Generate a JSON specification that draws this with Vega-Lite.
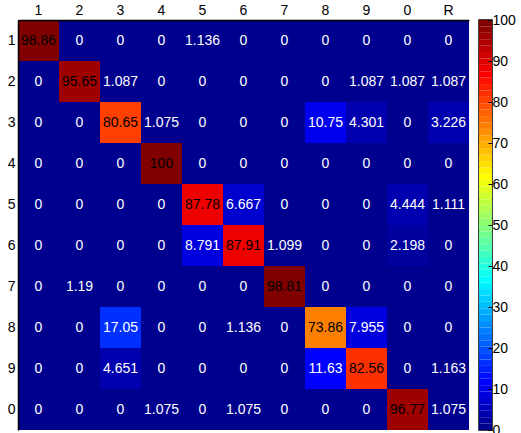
{
  "$schema": "https://vega.github.io/schema/vega-lite/v6.json",
  "padding": {"left": 7, "top": 3, "right": 0, "bottom": 0},
  "background": "white",
  "spacing": 10,
  "bounds": "flush",
  "config": {
    "font": "Liberation Sans",
    "view": {"stroke": null},
    "axis": {"labelFont": "Liberation Sans", "labelFontSize": 14, "labelColor": "#000", "grid": false}
  },
  "datasets": {
    "cm": [
      {"actual": "1", "pred": "1", "v": 98.86}, {"actual": "1", "pred": "2", "v": 0}, {"actual": "1", "pred": "3", "v": 0}, {"actual": "1", "pred": "4", "v": 0}, {"actual": "1", "pred": "5", "v": 1.136}, {"actual": "1", "pred": "6", "v": 0}, {"actual": "1", "pred": "7", "v": 0}, {"actual": "1", "pred": "8", "v": 0}, {"actual": "1", "pred": "9", "v": 0}, {"actual": "1", "pred": "0", "v": 0}, {"actual": "1", "pred": "R", "v": 0},
      {"actual": "2", "pred": "1", "v": 0}, {"actual": "2", "pred": "2", "v": 95.65}, {"actual": "2", "pred": "3", "v": 1.087}, {"actual": "2", "pred": "4", "v": 0}, {"actual": "2", "pred": "5", "v": 0}, {"actual": "2", "pred": "6", "v": 0}, {"actual": "2", "pred": "7", "v": 0}, {"actual": "2", "pred": "8", "v": 0}, {"actual": "2", "pred": "9", "v": 1.087}, {"actual": "2", "pred": "0", "v": 1.087}, {"actual": "2", "pred": "R", "v": 1.087},
      {"actual": "3", "pred": "1", "v": 0}, {"actual": "3", "pred": "2", "v": 0}, {"actual": "3", "pred": "3", "v": 80.65}, {"actual": "3", "pred": "4", "v": 1.075}, {"actual": "3", "pred": "5", "v": 0}, {"actual": "3", "pred": "6", "v": 0}, {"actual": "3", "pred": "7", "v": 0}, {"actual": "3", "pred": "8", "v": 10.75}, {"actual": "3", "pred": "9", "v": 4.301}, {"actual": "3", "pred": "0", "v": 0}, {"actual": "3", "pred": "R", "v": 3.226},
      {"actual": "4", "pred": "1", "v": 0}, {"actual": "4", "pred": "2", "v": 0}, {"actual": "4", "pred": "3", "v": 0}, {"actual": "4", "pred": "4", "v": 100}, {"actual": "4", "pred": "5", "v": 0}, {"actual": "4", "pred": "6", "v": 0}, {"actual": "4", "pred": "7", "v": 0}, {"actual": "4", "pred": "8", "v": 0}, {"actual": "4", "pred": "9", "v": 0}, {"actual": "4", "pred": "0", "v": 0}, {"actual": "4", "pred": "R", "v": 0},
      {"actual": "5", "pred": "1", "v": 0}, {"actual": "5", "pred": "2", "v": 0}, {"actual": "5", "pred": "3", "v": 0}, {"actual": "5", "pred": "4", "v": 0}, {"actual": "5", "pred": "5", "v": 87.78}, {"actual": "5", "pred": "6", "v": 6.667}, {"actual": "5", "pred": "7", "v": 0}, {"actual": "5", "pred": "8", "v": 0}, {"actual": "5", "pred": "9", "v": 0}, {"actual": "5", "pred": "0", "v": 4.444}, {"actual": "5", "pred": "R", "v": 1.111},
      {"actual": "6", "pred": "1", "v": 0}, {"actual": "6", "pred": "2", "v": 0}, {"actual": "6", "pred": "3", "v": 0}, {"actual": "6", "pred": "4", "v": 0}, {"actual": "6", "pred": "5", "v": 8.791}, {"actual": "6", "pred": "6", "v": 87.91}, {"actual": "6", "pred": "7", "v": 1.099}, {"actual": "6", "pred": "8", "v": 0}, {"actual": "6", "pred": "9", "v": 0}, {"actual": "6", "pred": "0", "v": 2.198}, {"actual": "6", "pred": "R", "v": 0},
      {"actual": "7", "pred": "1", "v": 0}, {"actual": "7", "pred": "2", "v": 1.19}, {"actual": "7", "pred": "3", "v": 0}, {"actual": "7", "pred": "4", "v": 0}, {"actual": "7", "pred": "5", "v": 0}, {"actual": "7", "pred": "6", "v": 0}, {"actual": "7", "pred": "7", "v": 98.81}, {"actual": "7", "pred": "8", "v": 0}, {"actual": "7", "pred": "9", "v": 0}, {"actual": "7", "pred": "0", "v": 0}, {"actual": "7", "pred": "R", "v": 0},
      {"actual": "8", "pred": "1", "v": 0}, {"actual": "8", "pred": "2", "v": 0}, {"actual": "8", "pred": "3", "v": 17.05}, {"actual": "8", "pred": "4", "v": 0}, {"actual": "8", "pred": "5", "v": 0}, {"actual": "8", "pred": "6", "v": 1.136}, {"actual": "8", "pred": "7", "v": 0}, {"actual": "8", "pred": "8", "v": 73.86}, {"actual": "8", "pred": "9", "v": 7.955}, {"actual": "8", "pred": "0", "v": 0}, {"actual": "8", "pred": "R", "v": 0},
      {"actual": "9", "pred": "1", "v": 0}, {"actual": "9", "pred": "2", "v": 0}, {"actual": "9", "pred": "3", "v": 4.651}, {"actual": "9", "pred": "4", "v": 0}, {"actual": "9", "pred": "5", "v": 0}, {"actual": "9", "pred": "6", "v": 0}, {"actual": "9", "pred": "7", "v": 0}, {"actual": "9", "pred": "8", "v": 11.63}, {"actual": "9", "pred": "9", "v": 82.56}, {"actual": "9", "pred": "0", "v": 0}, {"actual": "9", "pred": "R", "v": 1.163},
      {"actual": "0", "pred": "1", "v": 0}, {"actual": "0", "pred": "2", "v": 0}, {"actual": "0", "pred": "3", "v": 0}, {"actual": "0", "pred": "4", "v": 1.075}, {"actual": "0", "pred": "5", "v": 0}, {"actual": "0", "pred": "6", "v": 1.075}, {"actual": "0", "pred": "7", "v": 0}, {"actual": "0", "pred": "8", "v": 0}, {"actual": "0", "pred": "9", "v": 0}, {"actual": "0", "pred": "0", "v": 96.77}, {"actual": "0", "pred": "R", "v": 1.075}
    ],
    "cb": [
      {"lo": 0, "hi": 1.5625}, {"lo": 1.5625, "hi": 3.125}, {"lo": 3.125, "hi": 4.6875}, {"lo": 4.6875, "hi": 6.25}, {"lo": 6.25, "hi": 7.8125}, {"lo": 7.8125, "hi": 9.375}, {"lo": 9.375, "hi": 10.9375}, {"lo": 10.9375, "hi": 12.5},
      {"lo": 12.5, "hi": 14.0625}, {"lo": 14.0625, "hi": 15.625}, {"lo": 15.625, "hi": 17.1875}, {"lo": 17.1875, "hi": 18.75}, {"lo": 18.75, "hi": 20.3125}, {"lo": 20.3125, "hi": 21.875}, {"lo": 21.875, "hi": 23.4375}, {"lo": 23.4375, "hi": 25},
      {"lo": 25, "hi": 26.5625}, {"lo": 26.5625, "hi": 28.125}, {"lo": 28.125, "hi": 29.6875}, {"lo": 29.6875, "hi": 31.25}, {"lo": 31.25, "hi": 32.8125}, {"lo": 32.8125, "hi": 34.375}, {"lo": 34.375, "hi": 35.9375}, {"lo": 35.9375, "hi": 37.5},
      {"lo": 37.5, "hi": 39.0625}, {"lo": 39.0625, "hi": 40.625}, {"lo": 40.625, "hi": 42.1875}, {"lo": 42.1875, "hi": 43.75}, {"lo": 43.75, "hi": 45.3125}, {"lo": 45.3125, "hi": 46.875}, {"lo": 46.875, "hi": 48.4375}, {"lo": 48.4375, "hi": 50},
      {"lo": 50, "hi": 51.5625}, {"lo": 51.5625, "hi": 53.125}, {"lo": 53.125, "hi": 54.6875}, {"lo": 54.6875, "hi": 56.25}, {"lo": 56.25, "hi": 57.8125}, {"lo": 57.8125, "hi": 59.375}, {"lo": 59.375, "hi": 60.9375}, {"lo": 60.9375, "hi": 62.5},
      {"lo": 62.5, "hi": 64.0625}, {"lo": 64.0625, "hi": 65.625}, {"lo": 65.625, "hi": 67.1875}, {"lo": 67.1875, "hi": 68.75}, {"lo": 68.75, "hi": 70.3125}, {"lo": 70.3125, "hi": 71.875}, {"lo": 71.875, "hi": 73.4375}, {"lo": 73.4375, "hi": 75},
      {"lo": 75, "hi": 76.5625}, {"lo": 76.5625, "hi": 78.125}, {"lo": 78.125, "hi": 79.6875}, {"lo": 79.6875, "hi": 81.25}, {"lo": 81.25, "hi": 82.8125}, {"lo": 82.8125, "hi": 84.375}, {"lo": 84.375, "hi": 85.9375}, {"lo": 85.9375, "hi": 87.5},
      {"lo": 87.5, "hi": 89.0625}, {"lo": 89.0625, "hi": 90.625}, {"lo": 90.625, "hi": 92.1875}, {"lo": 92.1875, "hi": 93.75}, {"lo": 93.75, "hi": 95.3125}, {"lo": 95.3125, "hi": 96.875}, {"lo": 96.875, "hi": 98.4375}, {"lo": 98.4375, "hi": 100}
    ]
  },
  "hconcat": [
    {
      "width": 451,
      "height": 410,
      "data": {"name": "cm"},
      "encoding": {
        "x": {"field": "pred", "type": "ordinal", "sort": ["1", "2", "3", "4", "5", "6", "7", "8", "9", "0", "R"], "scale": {"paddingInner": 0, "paddingOuter": 0}, "axis": {"orient": "top", "title": null, "ticks": false, "labelAngle": 0, "labelPadding": 3, "domain": true, "domainColor": "#000", "domainWidth": 1.5, "zindex": 1}},
        "y": {"field": "actual", "type": "ordinal", "sort": ["1", "2", "3", "4", "5", "6", "7", "8", "9", "0"], "scale": {"paddingInner": 0, "paddingOuter": 0}, "axis": {"title": null, "ticks": false, "labelPadding": 3, "domain": true, "domainColor": "#000", "domainWidth": 1.5, "zindex": 1}}
      },
      "layer": [
        {
          "mark": {"type": "rect"},
          "encoding": {
            "color": {"field": "v", "type": "quantitative", "legend": null, "scale": {"type": "quantize", "domain": [0, 100], "range": ["#00008F","#00009F","#0000AF","#0000BF","#0000CF","#0000DF","#0000EF","#0000FF","#0010FF","#0020FF","#0030FF","#0040FF","#0050FF","#0060FF","#0070FF","#0080FF","#008FFF","#009FFF","#00AFFF","#00BFFF","#00CFFF","#00DFFF","#00EFFF","#00FFFF","#10FFEF","#20FFDF","#30FFCF","#40FFBF","#50FFAF","#60FF9F","#70FF8F","#80FF80","#8FFF70","#9FFF60","#AFFF50","#BFFF40","#CFFF30","#DFFF20","#EFFF10","#FFFF00","#FFEF00","#FFDF00","#FFCF00","#FFBF00","#FFAF00","#FF9F00","#FF8F00","#FF8000","#FF7000","#FF6000","#FF5000","#FF4000","#FF3000","#FF2000","#FF1000","#FF0000","#EF0000","#DF0000","#CF0000","#BF0000","#AF0000","#9F0000","#8F0000","#800000"]}}
          }
        },
        {
          "mark": {"type": "text", "fontSize": 14, "font": "Liberation Sans"},
          "encoding": {
            "text": {"field": "v", "type": "quantitative", "format": ".4~g"},
            "color": {"condition": {"test": "datum.v > 50", "value": "#000000"}, "value": "#FFFFFF"}
          }
        }
      ]
    },
    {
      "width": 13,
      "height": 410,
      "data": {"name": "cb"},
      "view": {"stroke": "#000", "strokeWidth": 1.5},
      "mark": {"type": "rect"},
      "encoding": {
        "y": {"field": "lo", "type": "quantitative", "scale": {"domain": [0, 100], "nice": false, "zero": false}, "axis": {"orient": "right", "title": null, "values": [0, 10, 20, 30, 40, 50, 60, 70, 80, 90, 100], "tickSize": -4, "tickColor": "#000", "domain": false, "labelPadding": 4, "zindex": 1}},
        "y2": {"field": "hi"},
        "color": {"field": "lo", "type": "quantitative", "legend": null, "scale": {"type": "quantize", "domain": [0, 100], "range": ["#00008F","#00009F","#0000AF","#0000BF","#0000CF","#0000DF","#0000EF","#0000FF","#0010FF","#0020FF","#0030FF","#0040FF","#0050FF","#0060FF","#0070FF","#0080FF","#008FFF","#009FFF","#00AFFF","#00BFFF","#00CFFF","#00DFFF","#00EFFF","#00FFFF","#10FFEF","#20FFDF","#30FFCF","#40FFBF","#50FFAF","#60FF9F","#70FF8F","#80FF80","#8FFF70","#9FFF60","#AFFF50","#BFFF40","#CFFF30","#DFFF20","#EFFF10","#FFFF00","#FFEF00","#FFDF00","#FFCF00","#FFBF00","#FFAF00","#FF9F00","#FF8F00","#FF8000","#FF7000","#FF6000","#FF5000","#FF4000","#FF3000","#FF2000","#FF1000","#FF0000","#EF0000","#DF0000","#CF0000","#BF0000","#AF0000","#9F0000","#8F0000","#800000"]}}
      }
    }
  ]
}
